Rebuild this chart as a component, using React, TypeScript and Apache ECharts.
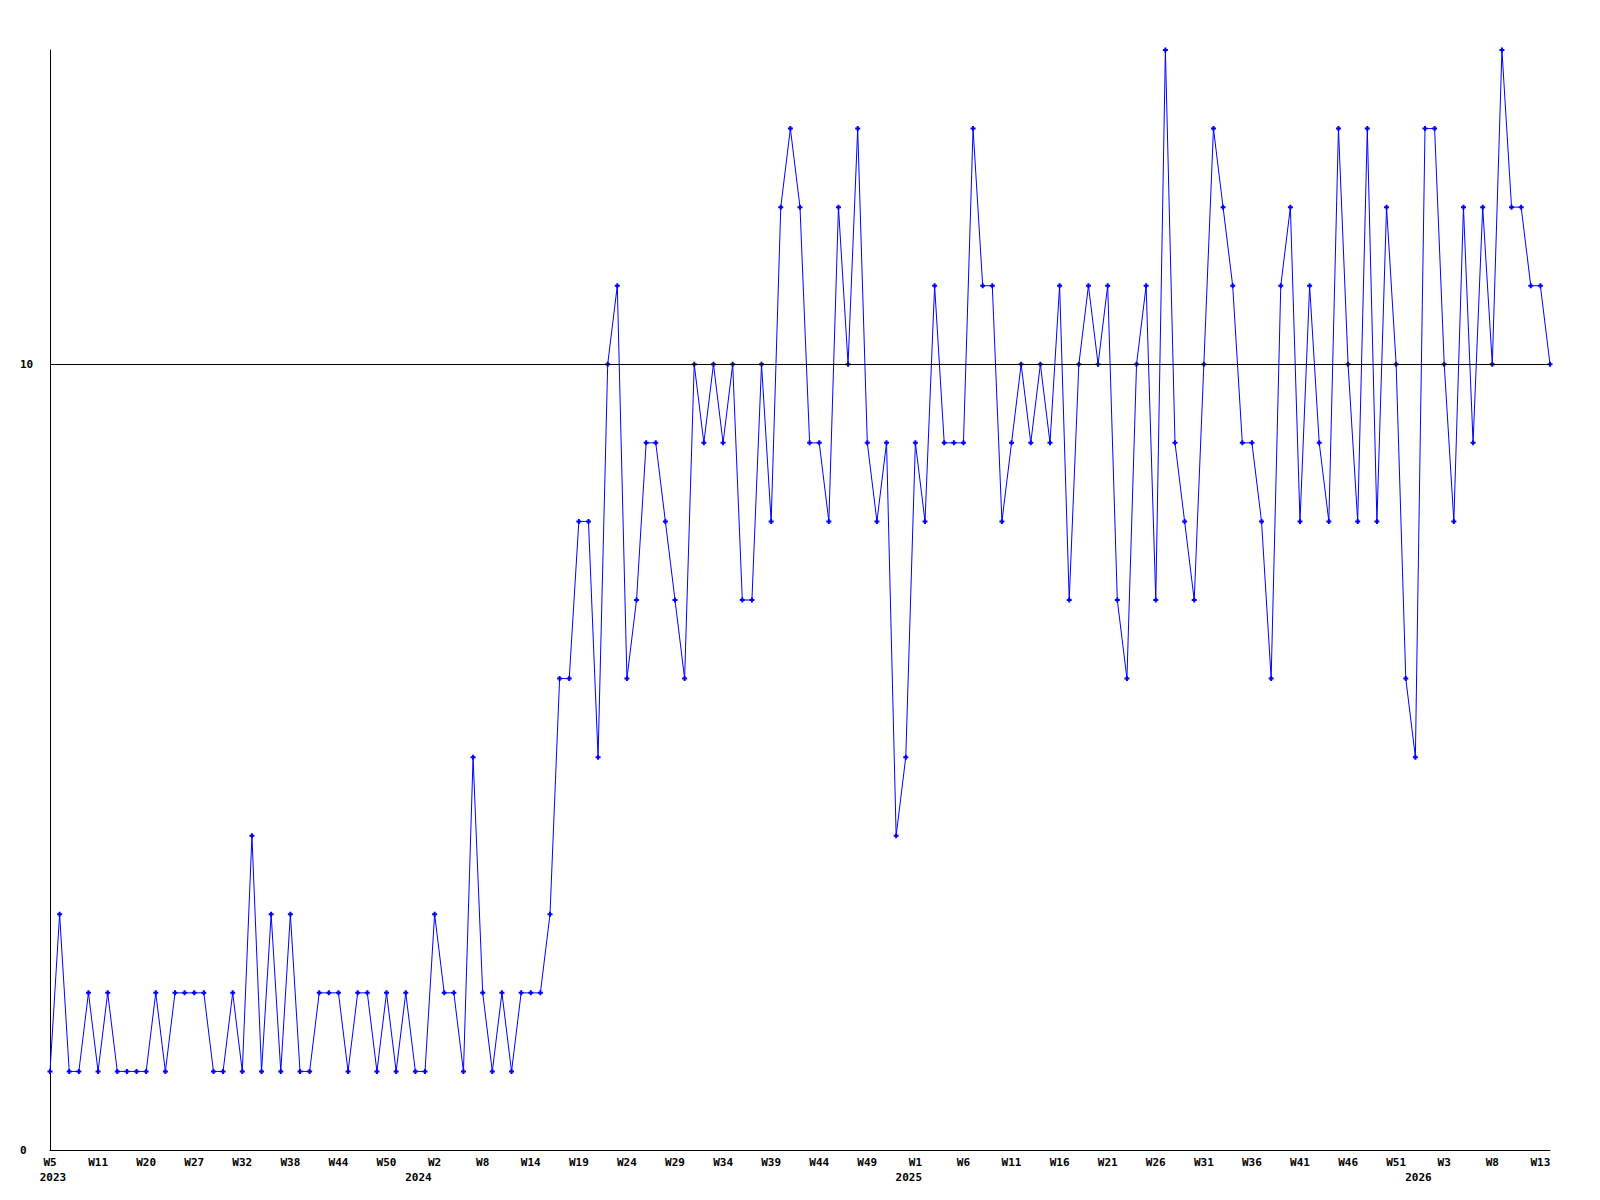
import React, { useEffect, useRef } from "react";
import * as echarts from "echarts";

// Weekly values, one per point (157 points)
const values: number[] = [
  1, 3, 1, 1, 2, 1, 2, 1, 1, 1,
  1, 2, 1, 2, 2, 2, 2, 1, 1, 2,
  1, 4, 1, 3, 1, 3, 1, 1, 2, 2,
  2, 1, 2, 2, 1, 2, 1, 2, 1, 1,
  3, 2, 2, 1, 5, 2, 1, 2, 1, 2,
  2, 2, 3,
  6, 6, 8, 8, 5, 10, 11, 6, 7, 9,
  9, 8, 7, 6, 10, 9, 10, 9, 10, 7,
  7, 10, 8, 12, 13, 12, 9, 9, 8, 12,
  10, 13, 9, 8, 9, 4, 5, 9, 8, 11,
  9, 9, 9, 13, 11, 11, 8, 9, 10, 9,
  10, 9, 11, 7, 10, 11, 10, 11, 7, 6,
  10, 11, 7, 14, 9, 8, 7, 10, 13, 12,
  11, 9, 9, 8, 6, 11, 12, 8, 11, 9,
  8, 13, 10, 8, 13, 8, 12, 10, 6, 5,
  13, 13, 10, 8, 12, 9, 12, 10, 14, 12,
  12, 11, 11, 10,
];

// Week tick labels, one every 5 points
const tickStep = 5;
const weekLabels: string[] = [
  "W5", "W11", "W20", "W27", "W32", "W38", "W44", "W50",
  "W2", "W8", "W14", "W19", "W24", "W29", "W34", "W39", "W44", "W49",
  "W1", "W6", "W11", "W16", "W21", "W26", "W31", "W36", "W41", "W46", "W51",
  "W3", "W8", "W13",
];

// Year labels and the point index they sit under
const yearIndices: number[] = [0, 38, 89, 142];
const yearLabels: string[] = ["2023", "2024", "2025", "2026"];

const referenceLine = 10;

const categories = values.map((_, i) => String(i));

const FONT = "'DejaVu Sans Mono', monospace";

export default function App() {
  const ref = useRef<HTMLDivElement>(null);

  useEffect(() => {
    if (!ref.current) return;
    const chart = echarts.init(ref.current, null, { renderer: "svg" });
    chart.setOption({
      animation: false,
      backgroundColor: "#ffffff",
      grid: { left: 50, right: 50, top: 50, bottom: 50, containLabel: false },
      xAxis: [
        {
          type: "category",
          data: categories,
          boundaryGap: false,
          position: "bottom",
          axisLine: { show: true, lineStyle: { color: "#000", width: 1 } },
          axisTick: { show: false },
          splitLine: { show: false },
          axisLabel: {
            interval: (index: number) => index % tickStep === 0,
            formatter: (_v: string, index: number) =>
              index % tickStep === 0 ? weekLabels[index / tickStep] ?? "" : "",
            color: "#000",
            fontFamily: FONT,
            fontWeight: "bold",
            fontSize: 11,
            margin: 7,
          },
        },
        {
          type: "category",
          data: categories,
          boundaryGap: false,
          position: "bottom",
          offset: 15,
          axisLine: { show: false },
          axisTick: { show: false },
          splitLine: { show: false },
          axisLabel: {
            interval: (index: number) => yearIndices.indexOf(index) >= 0,
            formatter: (_v: string, index: number) => {
              const k = yearIndices.indexOf(index);
              return k >= 0 ? yearLabels[k] : "";
            },
            color: "#000",
            fontFamily: FONT,
            fontWeight: "bold",
            fontSize: 11,
            margin: 7,
            padding: [0, 0, 0, 6],
          },
        },
      ],
      yAxis: {
        type: "value",
        min: 0,
        max: 14,
        interval: 10,
        axisLine: { show: true, lineStyle: { color: "#000", width: 1 } },
        axisTick: { show: false },
        splitLine: { show: false },
        axisLabel: {
          showMaxLabel: false,
          formatter: (v: number) => (v === 0 || v === 10 ? String(v) : ""),
          color: "#000",
          fontFamily: FONT,
          fontWeight: "bold",
          fontSize: 11,
          align: "left",
          margin: 30,
        },
      },
      series: [
        {
          type: "line",
          data: values,
          xAxisIndex: 0,
          symbol: "path://M1.5,0H3.5V1.5H5V3.5H3.5V5H1.5V3.5H0V1.5H1.5Z",
          symbolSize: 5,
          showSymbol: true,
          showAllSymbol: true,
          lineStyle: { color: "#0000ff", width: 1 },
          itemStyle: { color: "#0000ff" },
          emphasis: { disabled: true },
          markLine: {
            silent: true,
            symbol: ["none", "none"],
            label: { show: false },
            lineStyle: { color: "#000", width: 1, type: "solid" },
            data: [{ yAxis: referenceLine }],
          },
          z: 3,
        },
      ],
    });
    return () => chart.dispose();
  }, []);

  return (
    <div
      ref={ref}
      style={{ position: "absolute", left: 0, top: 0, width: 1600, height: 1200, background: "#fff" }}
    />
  );
}
